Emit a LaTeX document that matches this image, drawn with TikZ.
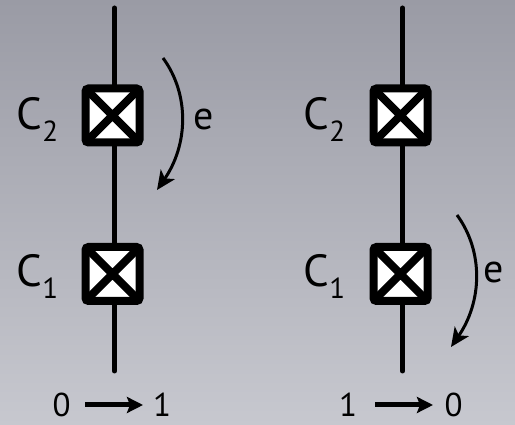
\documentclass[tikz,border=0pt]{standalone}
\usepackage{fontspec}
\setmainfont{PT Sans}
\usetikzlibrary{arrows.meta}
\begin{document}
\begin{tikzpicture}[x=1pt,y=1pt,
  switchbox/.style={draw=black, fill=white, line width=8pt, rounded corners=3pt,
    minimum size=54pt, inner sep=0pt,
    path picture={\draw[line width=8pt]
      (path picture bounding box.north west) -- (path picture bounding box.south east)
      (path picture bounding box.north east) -- (path picture bounding box.south west);}},
  wire/.style={line width=5pt, line cap=round},
  clabel/.style={font=\fontsize{45}{45}\selectfont, inner sep=0pt, anchor=base west},
  elabel/.style={font=\fontsize{40}{40}\selectfont, inner sep=0pt, anchor=base west},
  digit/.style={font=\fontsize{33}{33}\selectfont, inner sep=0pt, anchor=base},
  flow/.style={line width=3pt, -{Stealth[length=19pt,width=17pt,inset=5pt]}},
  trans/.style={line width=5pt, -{Stealth[length=16pt,width=16pt,inset=3pt]}}
]
\newcommand{\sub}[1]{\kern0.5pt\raisebox{-12pt}{\fontsize{29}{29}\selectfont #1}}
\shade[top color={rgb,255:red,154;green,155;blue,165}, bottom color={rgb,255:red,199;green,200;blue,207}]
  (0,0) rectangle (515,425);
\useasboundingbox (0,0) rectangle (515,425);

% left column
\coordinate (lt) at (114.5,417);
\coordinate (lb) at (114.5,54);
\node[switchbox] (lc2) at (112.5,309.5) {};
\node[switchbox] (lc1) at (112.5,151) {};
\draw[wire] (lt) -- ([xshift=2pt]lc2.north);
\draw[wire] ([xshift=2pt]lc2.south) -- ([xshift=2pt]lc1.north);
\draw[wire] ([xshift=2pt]lc1.south) -- (lb);
\node[clabel] (llc2) at (16,295) {C\sub{2}};
\node[clabel] (llc1) at (16,138) {C\sub{1}};
\coordinate (la0) at (163,367);
\coordinate (la1) at (157,235);
\draw[flow] (la0) .. controls (190,330) and (188,280) .. (la1);
\node[elabel] (le) at (193,295) {e};

% right column
\coordinate (rt) at (402.5,417);
\coordinate (rb) at (402.5,54);
\node[switchbox] (rc2) at (400.5,309.5) {};
\node[switchbox] (rc1) at (400.5,151) {};
\draw[wire] (rt) -- ([xshift=2pt]rc2.north);
\draw[wire] ([xshift=2pt]rc2.south) -- ([xshift=2pt]rc1.north);
\draw[wire] ([xshift=2pt]rc1.south) -- (rb);
\node[clabel] (rlc2) at (303,295) {C\sub{2}};
\node[clabel] (rlc1) at (303,138) {C\sub{1}};
\coordinate (ra0) at (457,210);
\coordinate (ra1) at (451,78);
\draw[flow] (ra0) .. controls (484,173) and (482,123) .. (ra1);
\node[elabel] (re) at (483,142) {e};

% bottom transitions
\node[digit] (l0) at (61.5,8) {0};
\node[digit] (l1) at (162,8) {1};
\coordinate (lts) at (85,20);
\coordinate (lte) at (143,20);
\draw[trans] (lts) -- (lte);
\node[digit] (r1) at (348,8) {1};
\node[digit] (r0) at (453.5,8) {0};
\coordinate (rts) at (375,20);
\coordinate (rte) at (433,20);
\draw[trans] (rts) -- (rte);
\end{tikzpicture}
\end{document}
